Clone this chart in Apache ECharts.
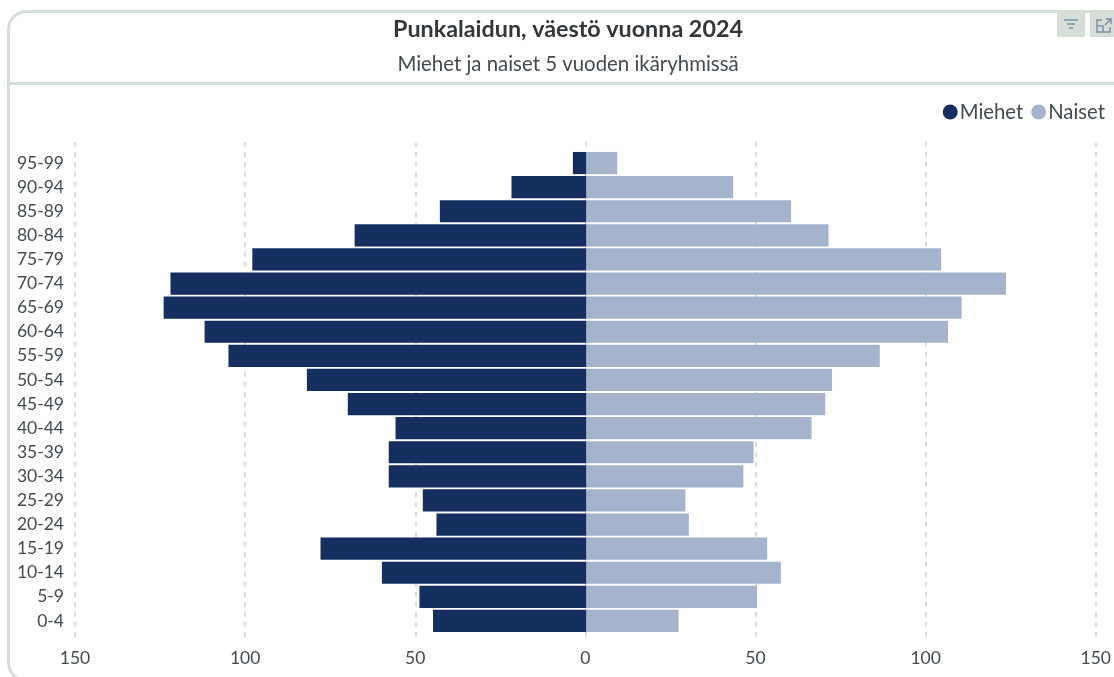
<!DOCTYPE html>
<html>
<head>
<meta charset="utf-8">
<style>
html, body { margin: 0; padding: 0; background: #fff; }
#main { width: 1114px; height: 677px; }
</style>
<script src="https://cdn.jsdelivr.net/npm/echarts@6/dist/echarts.min.js"></script>
</head>
<body>
<div id="main"></div>
<script>
var ageGroups = ['95-99', '90-94', '85-89', '80-84', '75-79', '70-74', '65-69', '60-64', '55-59', '50-54',
    '45-49', '40-44', '35-39', '30-34', '25-29', '20-24', '15-19', '10-14', '5-9', '0-4'];
var miehet = [4, 22, 43, 68, 98, 122, 124, 112, 105, 82, 70, 56, 58, 58, 48, 44, 78, 60, 49, 45];
var naiset = [9, 43, 60, 71, 104, 123, 110, 106, 86, 72, 70, 66, 49, 46, 29, 30, 53, 57, 50, 27];

var font = 'Lato, "Open Sans", sans-serif';
var frameColor = '#d6ded8';
var textColor = '#444a52';

var myChart = echarts.init(document.getElementById('main'), null, { renderer: 'canvas' });

// miehet go left of zero, so the values are negated and the labels made positive again
var option = {
    animation: false,
    textStyle: { fontFamily: font },
    title: [
        { text: 'Punkalaidun, väestö vuonna 2024', left: 563, top: 13, textAlign: 'center',
          textStyle: { fontFamily: font, fontSize: 23.3, fontWeight: 'bold', color: '#33373d' } },
        { text: 'Miehet ja naiset 5 vuoden ikäryhmissä', left: 563, top: 49, textAlign: 'center',
          textStyle: { fontFamily: font, fontSize: 20.4, fontWeight: 'normal', color: textColor } }
    ],
    legend: {
        right: 4, top: 97, itemGap: 8, itemWidth: 15, itemHeight: 15, icon: 'circle',
        data: ['Miehet', 'Naiset'],
        textStyle: { fontFamily: font, fontSize: 20.3, color: textColor, padding: [0, 0, 0, -3] }
    },
    // first grid only carries the x axis, its dashed lines run past the bars
    grid: [
        { left: 75, right: 16, top: 142, bottom: 36 },
        { left: 75, right: 16, top: 151, bottom: 44 }
    ],
    xAxis: [
        { type: 'value', gridIndex: 0, min: -150, max: 150, interval: 50,
          axisLine: { show: false }, axisTick: { show: false },
          axisLabel: { fontSize: 17.5, color: textColor, margin: 8,
              formatter: function (v) { return Math.abs(v); } },
          splitLine: { lineStyle: { color: '#dcdcdc', type: [5, 5], width: 2 } } },
        { type: 'value', gridIndex: 1, min: -150, max: 150, interval: 50, show: false }
    ],
    yAxis: [
        { type: 'category', gridIndex: 0, data: ageGroups, inverse: true, show: false },
        { type: 'category', gridIndex: 1, data: ageGroups, inverse: true,
          axisLine: { show: false }, axisTick: { show: false },
          axisLabel: { fontSize: 17.5, color: textColor, margin: 11 } }
    ],
    series: [
        { name: 'Miehet', type: 'bar', xAxisIndex: 1, yAxisIndex: 1, stack: 'pop', barCategoryGap: '8%',
          itemStyle: { color: '#152f5f' },
          data: miehet.map(function (v) { return -v; }) },
        { name: 'Naiset', type: 'bar', xAxisIndex: 1, yAxisIndex: 1, stack: 'pop', barCategoryGap: '8%',
          itemStyle: { color: '#a5b3cc' },
          data: naiset }
    ],
    graphic: [
        // card frame, runs off the right and bottom edges like in the screenshot
        { type: 'rect', z: -1, shape: { x: 8.5, y: 11.5, width: 1130, height: 669, r: 18 },
          style: { fill: 'none', stroke: frameColor, lineWidth: 3 } },
        { type: 'line', z: -1, shape: { x1: 8, y1: 83.5, x2: 1114, y2: 83.5 },
          style: { stroke: frameColor, lineWidth: 3 } },
        // buttons top right
        { type: 'rect', shape: { x: 1057, y: 12, width: 28, height: 25 }, style: { fill: '#d6ded8' } },
        { type: 'rect', shape: { x: 1090, y: 12, width: 24, height: 25 }, style: { fill: '#d6ded8' } },
        { type: 'line', shape: { x1: 1064, y1: 20, x2: 1078, y2: 20 }, style: { stroke: '#7f8fa8', lineWidth: 1.5 } },
        { type: 'line', shape: { x1: 1067, y1: 24, x2: 1075, y2: 24 }, style: { stroke: '#7f8fa8', lineWidth: 1.5 } },
        { type: 'line', shape: { x1: 1069, y1: 28, x2: 1073, y2: 28 }, style: { stroke: '#7f8fa8', lineWidth: 1.5 } },
        { type: 'polyline', shape: { points: [[1102, 20], [1097, 20], [1097, 32], [1110, 32], [1110, 27]] },
          style: { fill: 'none', stroke: '#7f8fa8', lineWidth: 1.5 } },
        { type: 'polyline', shape: { points: [[1097, 26], [1103, 26], [1103, 32]] },
          style: { fill: 'none', stroke: '#7f8fa8', lineWidth: 1.5 } },
        { type: 'polyline', shape: { points: [[1106, 19], [1111, 19], [1111, 24]] },
          style: { fill: 'none', stroke: '#7f8fa8', lineWidth: 1.5 } },
        { type: 'line', shape: { x1: 1111, y1: 19, x2: 1105, y2: 25 }, style: { stroke: '#7f8fa8', lineWidth: 1.5 } }
    ]
};
myChart.setOption(option);
</script>
</body>
</html>
